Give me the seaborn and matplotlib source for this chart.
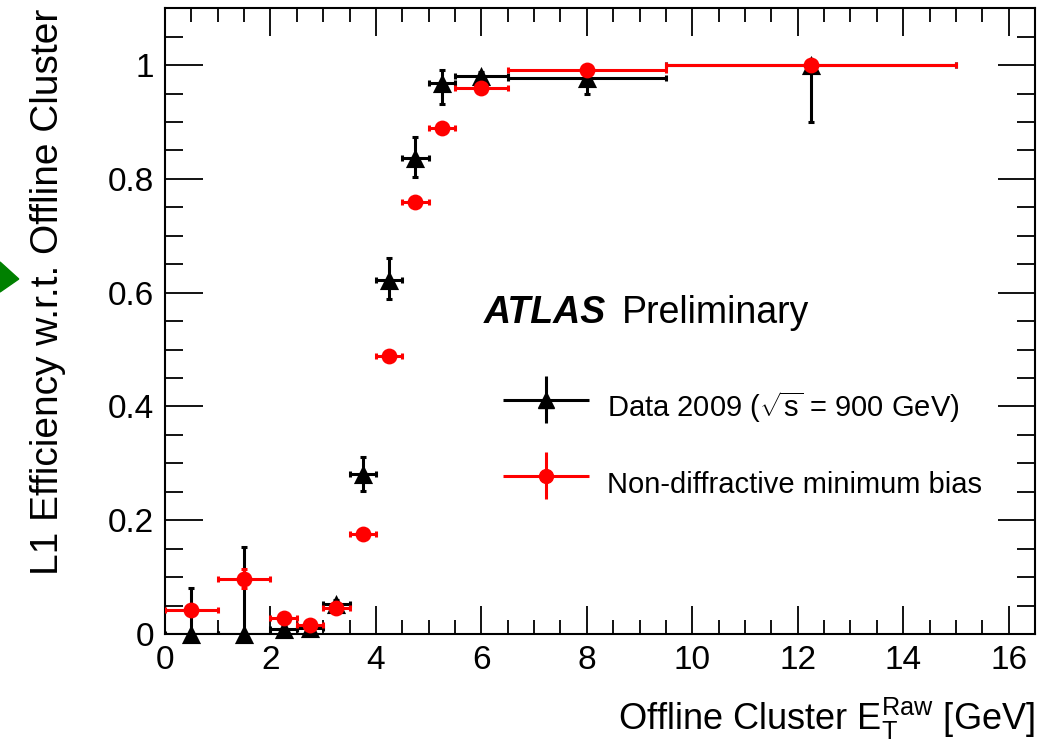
import numpy as np
import matplotlib
matplotlib.use("Agg")
import matplotlib.pyplot as plt
from matplotlib.patches import Polygon
from matplotlib.ticker import MultipleLocator, FuncFormatter
from matplotlib.legend_handler import HandlerErrorbar
import seaborn as sns

# bin edges (GeV) shared by both series
bin_lo = np.array([0.0, 1.0, 2.0, 2.5, 3.0, 3.5, 4.0, 4.5, 5.0, 5.5, 6.5, 9.5])
bin_hi = np.array([1.0, 2.0, 2.5, 3.0, 3.5, 4.0, 4.5, 5.0, 5.5, 6.5, 9.5, 15.0])

# data 2009
data_eff = np.array([0.0, 0.0, 0.008, 0.01, 0.052, 0.281, 0.622, 0.837, 0.968, 0.980, 0.977, 1.0])
data_up = np.array([0.081, 0.153, 0.01, 0.01, 0.008, 0.030, 0.039, 0.036, 0.023, 0.008, 0.013, 0.0])
data_dn = np.array([0.0, 0.0, 0.008, 0.01, 0.010, 0.030, 0.033, 0.034, 0.037, 0.010, 0.028, 0.10])

# non-diffractive MC
mc_eff = np.array([0.042, 0.097, 0.028, 0.015, 0.045, 0.176, 0.488, 0.759, 0.889, 0.960, 0.991, 1.0])
mc_err = np.array([0.008, 0.017, 0.006, 0.005, 0.005, 0.005, 0.004, 0.004, 0.003, 0.003, 0.002, 0.001])

x_mid = (bin_lo + bin_hi) / 2
x_half = (bin_hi - bin_lo) / 2

sns.set_theme(style="ticks")
plt.rcParams['font.family'] = ['Liberation Sans', 'DejaVu Sans']
plt.rcParams['mathtext.fontset'] = 'custom'
plt.rcParams['mathtext.rm'] = 'Liberation Sans'
plt.rcParams['mathtext.it'] = 'Liberation Sans:italic'
plt.rcParams['text.color'] = 'black'
plt.rcParams['axes.labelcolor'] = 'black'

fig = plt.figure(figsize=(10.42, 7.45), dpi=100)
ax = fig.add_axes([0.1583, 0.149, 0.835, 0.840])

ax.errorbar(x_mid, data_eff, yerr=[data_dn, data_up], xerr=x_half,
            fmt='none', ecolor='black', elinewidth=2.2, capsize=2.5, capthick=2.2,
            zorder=2)
sns.scatterplot(x=x_mid, y=data_eff, marker='^', s=190, color='black',
                edgecolor='black', linewidth=0, ax=ax, zorder=3, clip_on=False)
ax.errorbar(x_mid, mc_eff, yerr=mc_err, xerr=x_half,
            fmt='none', ecolor='red', elinewidth=2.2, capsize=2.5, capthick=2.2,
            zorder=4)
sns.scatterplot(x=x_mid, y=mc_eff, marker='o', s=130, color='red',
                edgecolor='red', linewidth=0, ax=ax, zorder=5, clip_on=False)

ax.set_xlim(0, 16.5)
ax.set_ylim(0, 1.1)
ax.xaxis.set_major_locator(MultipleLocator(2))
ax.xaxis.set_minor_locator(MultipleLocator(0.5))
ax.yaxis.set_major_locator(MultipleLocator(0.2))
ax.yaxis.set_minor_locator(MultipleLocator(0.05))
ax.yaxis.set_major_formatter(FuncFormatter(lambda v, p: f"{v:g}"))
ax.tick_params(which='both', direction='in', top=True, right=True, width=1.3,
               colors='black', labelsize=24)
ax.tick_params(axis='y', which='major', length=27, pad=8)
ax.tick_params(axis='y', which='minor', length=13)
ax.tick_params(axis='x', which='major', length=20, pad=8)
ax.tick_params(axis='x', which='minor', length=10)
for sp in ax.spines.values():
    sp.set_linewidth(1.5)
    sp.set_color('black')

ax.set_xlabel(r'Offline Cluster $\mathregular{E_{T}^{Raw}}$ [GeV]', fontsize=26,
              loc='right', labelpad=14)
ax.set_ylabel('L1 Efficiency w.r.t. Offline Cluster', fontsize=28, loc='top',
              labelpad=30)

ax.text(0.366, 0.513, 'ATLAS', transform=ax.transAxes, fontsize=27,
        fontweight='bold', fontstyle='italic', va='center')
ax.text(0.525, 0.513, 'Preliminary', transform=ax.transAxes, fontsize=27,
        va='center')

# legend handles carry no caps, like the reference
leg1 = ax.errorbar([], [], yerr=[], xerr=[], fmt='^', color='black', ms=12,
                   elinewidth=2.2, lw=2.2)
leg2 = ax.errorbar([], [], yerr=[], xerr=[], fmt='o', color='red', ms=10,
                   elinewidth=2.2, lw=2.2)
hmap = {leg1: HandlerErrorbar(xerr_size=1.48, yerr_size=0.81),
        leg2: HandlerErrorbar(xerr_size=1.48, yerr_size=0.81)}
ax.legend([leg1, leg2], [r'Data 2009 ($\mathregular{\sqrt{s}}$ = 900 GeV)',
                         'Non-diffractive minimum bias'],
          handler_map=hmap, loc='center left', bbox_to_anchor=(0.357, 0.30),
          frameon=False, fontsize=21, handlelength=3.05, handleheight=2.4,
          labelspacing=0.8, handletextpad=0.55)

# green arrow artefact at the left edge
fig.patches.append(Polygon([[0.0, 1 - 262 / 745], [0.018, 1 - 279 / 745], [0.0, 1 - 292 / 745]],
                           closed=True, transform=fig.transFigure, color='green'))

fig.savefig('out.png', dpi=100)
